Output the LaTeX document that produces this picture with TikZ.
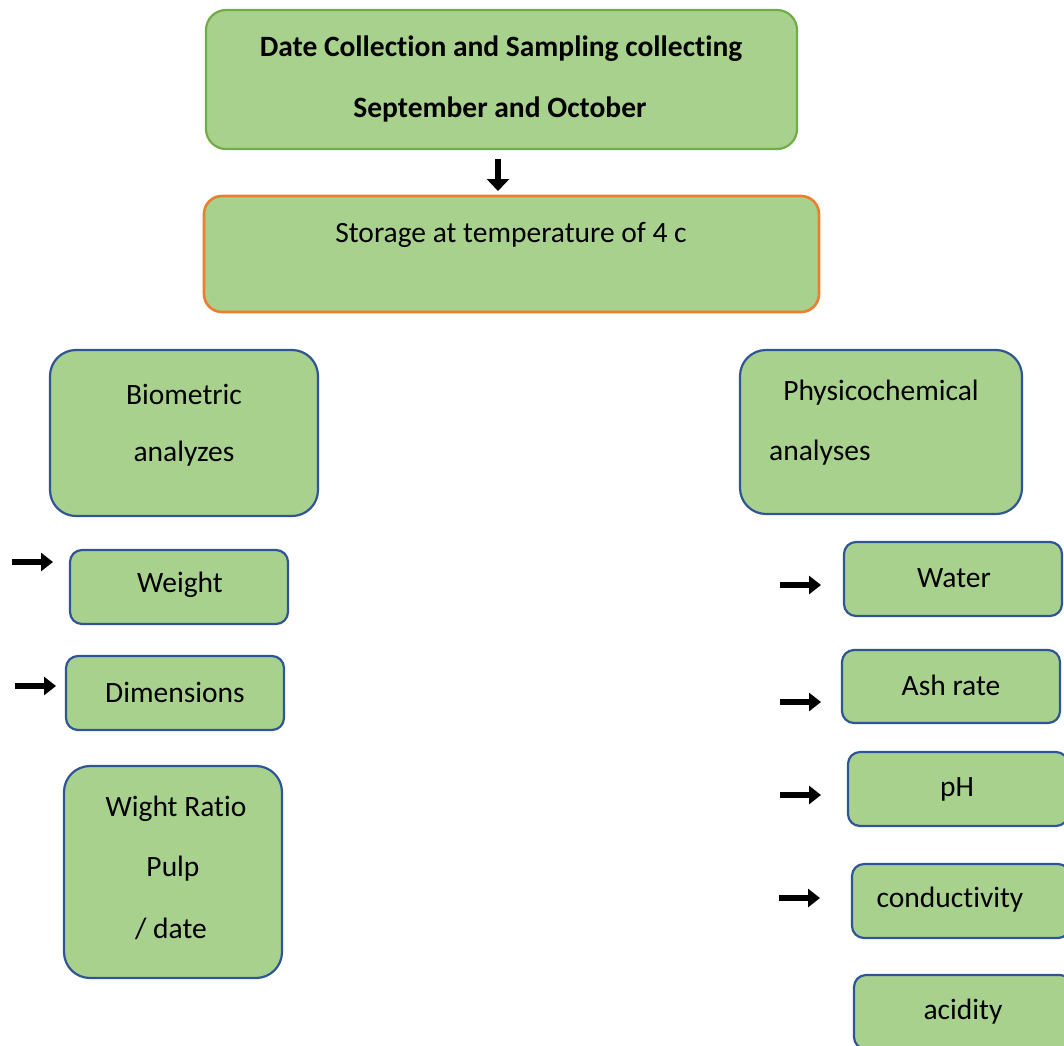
\documentclass[tikz,border=0pt]{standalone}
\usepackage{fontspec}
\setmainfont{Carlito}[Ligatures={NoCommon}]
\usepackage{tikz}
\usepackage{xcolor}
\usetikzlibrary{arrows.meta}

\definecolor{boxfill}{RGB}{169,209,142}
\definecolor{boxgreen}{RGB}{112,173,71}
\definecolor{boxorange}{RGB}{237,125,49}
\definecolor{boxblue}{RGB}{47,85,151}

\begin{document}
\begin{tikzpicture}[x=1pt, y=-1pt,
    box/.style={draw=boxblue, fill=boxfill, line width=2.2pt, rounded corners=12pt, inner sep=0pt},
    bigbox/.style={box, rounded corners=26pt},
    txt/.style={font=\fontsize{29.5}{34}\selectfont, inner sep=0pt, yshift=-2pt},
    blk/.style={line width=6pt, -{Triangle[length=12pt, width=18pt]}}]
    \useasboundingbox (0,0) rectangle (1064,1045);
    \clip (0,0) rectangle (1064,1045);

    % top of the flow
    \node[box, draw=boxgreen, rounded corners=20pt, minimum width=591pt, minimum height=139pt] (collect) at (501.5,79.5) {};
    \node[box, draw=boxorange, line width=2.6pt, rounded corners=18pt, minimum width=615pt, minimum height=116pt] (store) at (511.5,254) {};
    \node[txt, font=\fontsize{29.5}{34}\selectfont\bfseries] (collect1) at (501,47) {Date Collection and Sampling collecting};
    \node[txt, font=\fontsize{29.5}{34}\selectfont\bfseries] (collect2) at (500,107) {September and October};
    \node[txt] (store1) at (511,233) {Storage at temperature of 4 c};

    % left column
    \node[bigbox, minimum width=268pt, minimum height=166pt] (bio) at (184,433) {};
    \node[txt] (bio1) at (184,392) {Biometric};
    \node[txt] (bio2) at (184,452) {analyzes};
    \node[box, minimum width=218pt, minimum height=74pt] (weight) at (179,587) {};
    \node[txt] (weight1) at (180,583) {Weight};
    \node[box, minimum width=218pt, minimum height=74pt] (dims) at (175,693) {};
    \node[txt] (dims1) at (175,690) {Dimensions};
    \node[bigbox, minimum width=218pt, minimum height=212pt] (ratio) at (173,872) {};
    \node[txt] (ratio1) at (176,807) {Wight Ratio};
    \node[txt] (ratio2) at (173,867) {Pulp};
    \node[txt] (ratio3) at (171,927) {/ date};

    % right column
    \node[bigbox, minimum width=282pt, minimum height=164pt] (phys) at (881,432) {};
    \node[txt] (phys1) at (881,391) {Physicochemical};
    \node[txt, anchor=west] (phys2) at (769,451) {analyses};
    \node[box, minimum width=218pt, minimum height=74pt] (water) at (953,579) {};
    \node[txt] (water1) at (954,576) {Water};
    \node[box, minimum width=218pt, minimum height=73pt] (ash) at (951,686.5) {};
    \node[txt] (ash1) at (951,683) {Ash rate};
    \node[box, minimum width=220pt, minimum height=74pt] (ph) at (958,789) {};
    \node[txt] (ph1) at (957,787) {pH};
    \node[box, minimum width=218pt, minimum height=74pt] (cond) at (961,901) {};
    \node[txt] (cond1) at (950,898) {conductivity};
    \node[box, minimum width=218pt, minimum height=74pt] (acid) at (963,1012) {};
    \node[txt] (acid1) at (963,1010) {acidity};

    % block arrows
    \coordinate (d0) at (498,159);
    \coordinate (d1) at (498,191);
    \coordinate (w0) at (12,562);
    \coordinate (w1) at (53,562);
    \coordinate (m0) at (15,686);
    \coordinate (m1) at (56,686);
    \coordinate (a0) at (780,585);
    \coordinate (a1) at (821,585);
    \coordinate (b0) at (780,702);
    \coordinate (b1) at (821,702);
    \coordinate (c0) at (780,795);
    \coordinate (c1) at (821,795);
    \coordinate (e0) at (779,898);
    \coordinate (e1) at (820,898);
    \draw[blk, -{Triangle[length=12pt, width=22pt]}] (d0) -- (d1);
    \draw[blk] (w0) -- (w1);
    \draw[blk] (m0) -- (m1);
    \draw[blk] (a0) -- (a1);
    \draw[blk] (b0) -- (b1);
    \draw[blk] (c0) -- (c1);
    \draw[blk] (e0) -- (e1);
\end{tikzpicture}
\end{document}
